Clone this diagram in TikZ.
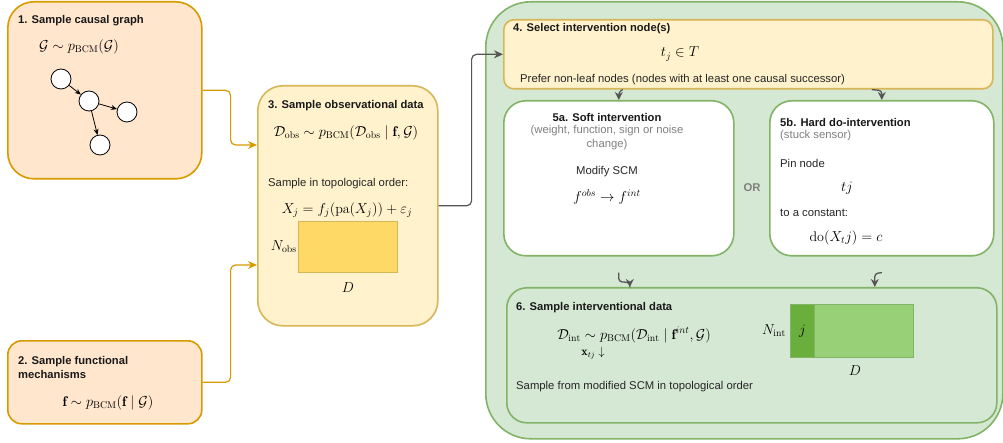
\documentclass[tikz,border=0pt]{standalone}
\usepackage{amsmath}
\usepackage{fontspec}
\newfontfamily\lsans{Liberation Sans}
\usetikzlibrary{arrows.meta}
\definecolor{orfill}{HTML}{FFE6CC}
\definecolor{orline}{HTML}{D79B00}
\definecolor{yefill}{HTML}{FFF2CC}
\definecolor{yeline}{HTML}{D6B656}
\definecolor{yerect}{HTML}{FFD966}
\definecolor{grfill}{HTML}{D5E8D4}
\definecolor{grline}{HTML}{82B366}
\definecolor{grlight}{HTML}{97D077}
\definecolor{grdark}{HTML}{6AAE3C}
\definecolor{arrgray}{HTML}{555555}
\definecolor{txtgray}{HTML}{808080}
\begin{document}
\begin{tikzpicture}[x=1pt,y=-1pt,
  box/.style={draw, line width=1.6pt, anchor=north west, inner sep=0pt},
  obox/.style={box, draw=orline, fill=orfill},
  ybox/.style={box, draw=yeline, fill=yefill},
  gbox/.style={box, draw=grline, fill=grfill},
  wbox/.style={box, draw=grline, fill=white},
  ttl/.style={font=\lsans\bfseries\fontsize{11.2}{14}\selectfont, inner sep=0pt, text=black!90},
  txt/.style={font=\lsans\fontsize{11.3}{14}\selectfont, inner sep=0pt, text=black!85},
  gtxt/.style={font=\lsans\fontsize{11.3}{14}\selectfont, inner sep=0pt, text=txtgray},
  mth/.style={font=\fontsize{14}{16}\selectfont, inner sep=0pt},
  gnode/.style={circle, draw=black, fill=white, line width=0.8pt, minimum size=20pt, inner sep=0pt},
  garc/.style={draw=black, line width=0.8pt, -{Stealth[length=6pt,width=5pt]}},
  oarr/.style={draw=orline, line width=1.2pt, rounded corners=5pt, -{Stealth[length=9pt,width=8pt]}},
  darr/.style={draw=arrgray, line width=1.2pt, rounded corners=5pt, -{Stealth[length=9pt,width=8pt]}},
  sarr/.style={draw=arrgray, line width=1.3pt, rounded corners=3pt, -{Stealth[length=8pt,width=8pt]}}
]
\useasboundingbox (0,0) rectangle (1003,443);

% ---------- boxes ----------
\node[obox, minimum width=194pt, minimum height=177pt, rounded corners=26pt] (b1) at (7,1) {};
\node[obox, minimum width=194pt, minimum height=83pt, rounded corners=14pt] (b2) at (7,340) {};
\node[ybox, minimum width=180pt, minimum height=240pt, rounded corners=25pt] (b3) at (257,85) {};
\node[gbox, minimum width=517pt, minimum height=437pt, rounded corners=45pt] (big) at (485,1) {};
\node[ybox, minimum width=489pt, minimum height=69pt, rounded corners=10pt] (b4) at (503,19) {};
\node[wbox, minimum width=230pt, minimum height=155pt, rounded corners=22pt] (b5a) at (503,100) {};
\node[wbox, minimum width=224pt, minimum height=155pt, rounded corners=22pt] (b5b) at (769,100) {};
\node[gbox, minimum width=490pt, minimum height=135pt, rounded corners=20pt] (b6) at (506,287) {};

% ---------- box 1 ----------
\node[ttl, anchor=west] (t1) at (18,21) {1. Sample causal graph};
\node[mth] (m1) at (79,47) {$\mathcal{G} \sim p_{\mathrm{BCM}}(\mathcal{G})$};
\node[gnode] (c1) at (61,79) {};
\node[gnode] (c2) at (89,101) {};
\node[gnode] (c3) at (127,112) {};
\node[gnode] (c4) at (100,145) {};
\draw[garc] (c1) -- (c2);
\draw[garc] (c2) -- (c3);
\draw[garc] (c2) -- (c4);

% ---------- box 2 ----------
\node[ttl, anchor=north west, align=left] (t2) at (18,356) {2. Sample functional\\mechanisms};
\node[mth] (m2) at (108,403) {$\mathbf{f} \sim p_{\mathrm{BCM}}(\mathbf{f} \mid \mathcal{G})$};

% ---------- box 3 ----------
\node[ttl, anchor=west] (t3) at (268,106) {3. Sample observational data};
\node[mth] (m3) at (346,133) {$\mathcal{D}_{\mathrm{obs}} \sim p_{\mathrm{BCM}}(\mathcal{D}_{\mathrm{obs}} \mid \mathbf{f}, \mathcal{G})$};
\node[txt, anchor=west] (s3) at (268,184) {Sample in topological order:};
\node[mth] (x3) at (347,210) {$X_j = f_j(\mathrm{pa}(X_j)) + \varepsilon_j$};
\node[draw=yeline, fill=yerect, line width=0.8pt, anchor=north west, minimum width=99pt, minimum height=51pt, inner sep=0pt] (dobs) at (298,221) {};
\node[mth, anchor=east] (nobs) at ([xshift=-1pt]dobs.west) {$N_{\mathrm{obs}}$};
\node[mth] (dd3) at ([yshift=-15pt]dobs.south) {$D$};

% ---------- box 4 ----------
\node[ttl, anchor=west] (t4) at (513,29) {4. Select intervention node(s)};
\node[mth] (m4) at (680,54) {$t_j \in T$};
\node[txt, anchor=west] (s4) at (520,80) {Prefer non-leaf nodes (nodes with at least one causal successor)};

% ---------- box 5a ----------
\node[ttl] (t5a) at (607,117) {5a. Soft intervention};
\node[gtxt, align=center] (g5a) at (607,138) {(weight, function, sign or noise\\change)};
\node[txt] (s5a) at (607,172) {Modify SCM};
\node[mth] (m5a) at (607,197) {$f^{obs} \rightarrow f^{int}$};

\node[font=\lsans\bfseries\fontsize{11.3}{14}\selectfont, text=txtgray, inner sep=0pt] (or) at (752,188) {OR};

% ---------- box 5b ----------
\node[ttl, anchor=west] (t5b) at (780,122) {5b. Hard do-intervention};
\node[gtxt, anchor=west] (g5b) at (780,136) {(stuck sensor)};
\node[txt, anchor=west] (p5b) at (780,163) {Pin node};
\node[mth] (tj) at (847,188) {$tj$};
\node[txt, anchor=west] (c5b) at (780,213) {to a constant:};
\node[mth] (do) at (846,238) {$\mathrm{do}(X_tj) = c$};

% ---------- box 6 ----------
\node[ttl, anchor=west] (t6) at (516,308) {6. Sample interventional data};
\node[mth] (m6) at (634,335) {$\mathcal{D}_{\mathrm{int}} \sim p_{\mathrm{BCM}}(\mathcal{D}_{\mathrm{int}} \mid \mathbf{f}^{int}, \mathcal{G})$};
\node[mth, font=\fontsize{12}{14}\selectfont] (xtj) at (593,353) {$\mathbf{x}_{tj}\downarrow$};
\node[txt, anchor=west] (s6) at (516,387) {Sample from modified SCM in topological order};
\node[draw=grline, fill=grdark, line width=0.8pt, anchor=north west, minimum width=24pt, minimum height=53pt, inner sep=0pt] (dj) at (790,304) {};
\node[draw=grline, fill=grlight, line width=0.8pt, anchor=north west, minimum width=99pt, minimum height=53pt, inner sep=0pt] (dint) at (814,304) {};
\node[mth] (jj) at (dj.center) {$j$};
\node[mth, anchor=east] (nint) at ([xshift=-4pt]dj.west) {$N_{\mathrm{int}}$};
\node[mth] (dd6) at ([yshift=-13pt]dint.south -| 855,0) {$D$};

% ---------- connectors ----------
\draw[oarr] (b1.east) -- ++(28,0) |- ([yshift=-60pt]b3.north west);
\draw[oarr] (b2.east) -- ++(28,0) |- ([yshift=-180pt]b3.north west);
\draw[darr] (b3.east) -- ++(33,0) |- (b4.west);
\draw[sarr] ([xshift=4pt]b5a.north |- b4.south) -- ([yshift=-2pt]b5a.north |- b4.south) -- (b5a.north);
\draw[sarr] ([xshift=-10pt]b5b.north |- b4.south) -- ([yshift=-1pt]b5b.north |- b4.south) -- (b5b.north);
\draw[sarr] ([yshift=-16pt]b5a.south) -- ([yshift=-25pt]b5a.south) -- ([xshift=11pt,yshift=-26pt]b5a.south) -- ([xshift=11pt]b5a.south |- b6.north);
\draw[sarr] ([yshift=-16pt]b5b.south) -- ([xshift=-7pt,yshift=-17pt]b5b.south) -- ([xshift=-7pt]b5b.south |- b6.north);
\end{tikzpicture}
\end{document}
